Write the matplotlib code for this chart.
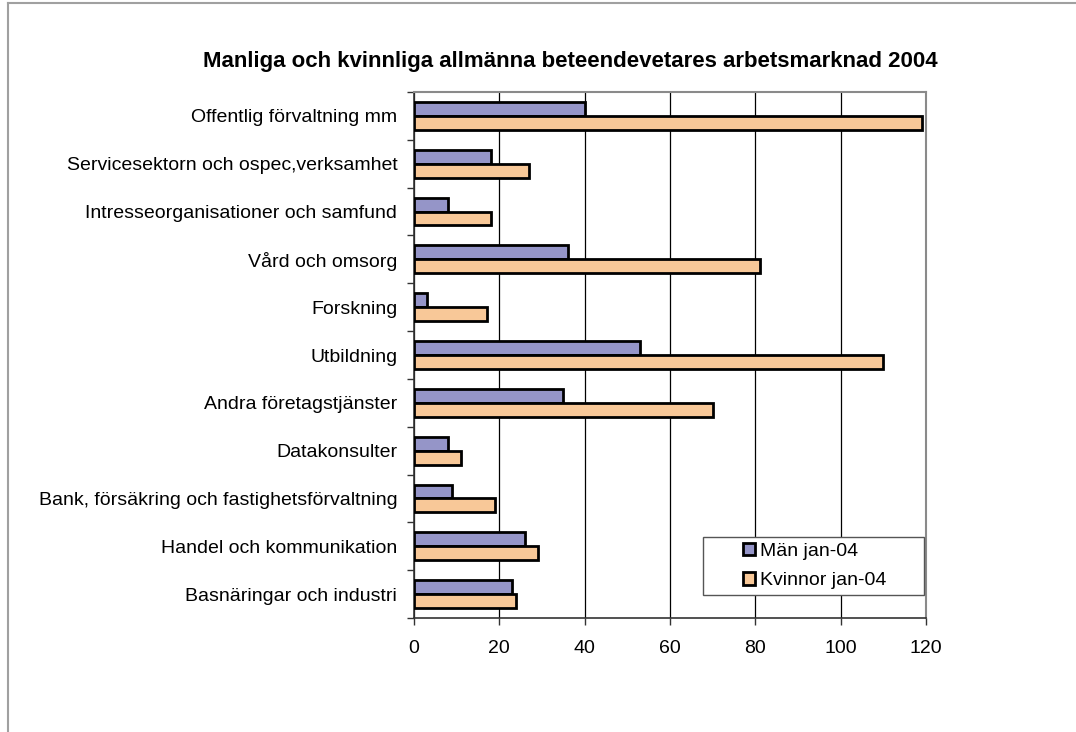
import matplotlib
matplotlib.use('Agg')
import matplotlib.pyplot as plt
from matplotlib.patches import Rectangle
from matplotlib.lines import Line2D
import numpy as np

plt.rcParams['font.family'] = ['Liberation Sans', 'DejaVu Sans']

# data, bottom to top as in the chart
categories = ['Basnäringar och industri',
              'Handel och kommunikation',
              'Bank, försäkring och fastighetsförvaltning',
              'Datakonsulter',
              'Andra företagstjänster',
              'Utbildning',
              'Forskning',
              'Vård och omsorg',
              'Intresseorganisationer och samfund',
              'Servicesektorn och ospec,verksamhet',
              'Offentlig förvaltning mm']
man = [23, 26, 9, 8, 35, 53, 3, 36, 8, 18, 40]
kvinnor = [24, 29, 19, 11, 70, 110, 17, 81, 18, 27, 119]
series_names = ['Män jan-04', 'Kvinnor jan-04']
xticks = [0, 20, 40, 60, 80, 100, 120]

col_man = '#9595C8'
col_kv = '#F8C898'

fig = plt.figure(figsize=(10.76, 7.32), dpi=100)
ax = fig.add_axes([414/1076, 1 - 618/732, 512/1076, 526/732])

y = np.arange(len(categories))
w = 0.29
b1 = ax.barh(y + w/2, man, height=w, color=col_man, edgecolor='black', linewidth=2, zorder=3)
b2 = ax.barh(y - w/2, kvinnor, height=w, color=col_kv, edgecolor='black', linewidth=2, zorder=3)

ax.set_xlim(0, 120)
ax.set_ylim(-0.5, len(categories) - 0.5)
ax.set_xticks(xticks)
ax.set_xticklabels([str(t) for t in xticks], fontsize=14)
ax.set_yticks(y)
ax.set_yticklabels(categories, fontsize=14)
ax.set_yticks(np.arange(len(categories) + 1) - 0.5, minor=True)
ax.tick_params(axis='y', which='major', length=0, pad=12)
ax.tick_params(axis='y', which='minor', length=5, width=1, direction='out', color='#333333')
ax.tick_params(axis='x', length=5, width=1, direction='out', pad=11, color='#333333')

ax.grid(axis='x', color='black', linewidth=0.9, zorder=0)
ax.set_axisbelow(True)
for s in ['top', 'right']:
    ax.spines[s].set_color('#8a8a8a')
    ax.spines[s].set_linewidth(1.5)
for s in ['left', 'bottom']:
    ax.spines[s].set_color('#333333')
    ax.spines[s].set_linewidth(1.2)

# legend box
lx0 = (703 - 414) / 512
lx1 = (924 - 414) / 512
ly0 = (618 - 595) / 526
ly1 = (618 - 537) / 526
ax.add_patch(Rectangle((lx0, ly0), lx1 - lx0, ly1 - ly0, transform=ax.transAxes,
                       facecolor='white', edgecolor='#555555', linewidth=1, zorder=5))
leg = ax.legend([b1, b2], series_names, loc='center left',
                bbox_to_anchor=((743 - 414) / 512, (ly0 + ly1) / 2),
                frameon=False, fontsize=14, handlelength=0.6, handleheight=0.6,
                handletextpad=0.25, labelspacing=0.65, borderpad=0, borderaxespad=0)
leg.set_zorder(6)

fig.text(570/1076, 1 - 62/732, 'Manliga och kvinnliga allmänna beteendevetares arbetsmarknad 2004',
         ha='center', va='center', fontsize=16, fontweight='bold')

# outer chart frame (left and top edges visible)
fig.add_artist(Line2D([8/1076, 8/1076], [0, 1 - 3/732], transform=fig.transFigure,
                      color='#a0a0a0', linewidth=1.5))
fig.add_artist(Line2D([8/1076, 1], [1 - 3/732, 1 - 3/732], transform=fig.transFigure,
                      color='#a0a0a0', linewidth=1.5))

fig.savefig('out.png', dpi=100)
